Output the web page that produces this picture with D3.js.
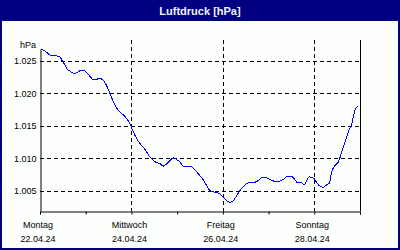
<!DOCTYPE html>
<html>
<head>
<meta charset="utf-8">
<script src="https://cdnjs.cloudflare.com/ajax/libs/d3/7.8.5/d3.min.js"></script>
<style>
  body { margin: 0; padding: 0; background: #fcfffc; }
  #chart { width: 400px; height: 250px; }
</style>
</head>
<body>
<div id="chart"></div>
<script>
// hours since Monday 22.04.24 00:00, and the pressure in hPa
var hours = [0.5, 2.6, 5.25, 7.9, 10.5, 11.4, 13.1, 14.3, 15.75, 17.5, 18.9, 20.1, 21.9, 23.6,
  25.4, 27.1, 28.35, 29.8, 31.1, 32.9, 34.65, 36.4, 38.2, 39.9, 41.6, 42.9, 45.5, 47.8,
  49.0, 50.8, 52.5, 54.2, 56.0, 57.75, 59.5, 61.3, 63.0, 64.7, 66.5, 68.25, 70.0, 71.8,
  73.5, 75.2, 77.0, 78.75, 80.85, 83.1, 85.7, 87.5, 89.25, 91.9, 94.5, 96.2, 98.0, 99.75,
  101.5, 103.3, 105.0, 106.7, 108.5, 110.25, 112.9, 114.6, 116.9, 119.0, 121.6, 124.3,
  127.7, 129.5, 131.8, 133.5, 135.3, 137.4, 138.8, 140.0, 141.2, 142.6, 144.0, 145.3,
  147.0, 148.7, 150.5, 151.9, 153.1, 154.9, 156.6, 158.4, 160.1, 161.9, 163.7, 165.4, 166.8];

var pressure = [1026.86, 1026.55, 1025.93, 1025.82, 1025.67, 1025.15, 1024.38, 1023.76, 1023.45,
  1023.14, 1023.14, 1023.34, 1023.61, 1023.45, 1022.94, 1022.32, 1022.06, 1022.17, 1022.32,
  1022.11, 1021.39, 1020.25, 1018.96, 1017.93, 1017.26, 1016.90, 1016.13, 1014.94, 1014.06,
  1013.03, 1012.26, 1011.73, 1010.96, 1010.19, 1009.67, 1009.32, 1009.16, 1008.79, 1009.16,
  1009.67, 1010.09, 1009.78, 1009.41, 1008.79, 1008.70, 1008.75, 1008.39, 1007.62, 1006.69,
  1005.80, 1005.03, 1004.77, 1004.52, 1004.00, 1003.48, 1003.22, 1003.48, 1004.26, 1005.03,
  1005.65, 1006.07, 1006.32, 1006.32, 1006.58, 1007.09, 1007.00, 1006.58, 1006.42, 1006.73,
  1007.15, 1007.24, 1006.84, 1006.22, 1006.22, 1005.91, 1006.58, 1007.15, 1007.04, 1006.84,
  1006.22, 1005.70, 1005.54, 1005.91, 1006.16, 1007.86, 1008.90, 1009.41, 1010.96, 1012.51,
  1014.06, 1015.36, 1017.42, 1018.08];

var yTicks = [1005, 1010, 1015, 1020, 1025];
var dayNames = ["Montag", "Mittwoch", "Freitag", "Sonntag"];
var dayLabels = ["22.04.24", "24.04.24", "26.04.24", "28.04.24"];
var labelDays = [22, 24, 26, 28];

var title = "Luftdruck [hPa]";
var unit = "hPa";

var visualize = function() {

  var width = 400, height = 250;
  var left = 40, right = 360, top = 40, bottom = 211;

  var svg = d3.select("#chart")
    .append("svg")
    .attr("width", width)
    .attr("height", height)
    .style("font-family", "'Liberation Sans', Arial, sans-serif");

  svg.append("rect")
    .attr("width", width).attr("height", height)
    .attr("fill", "#fcfffc");

  // title bar
  svg.append("rect")
    .attr("x", 0).attr("y", 0)
    .attr("width", width).attr("height", 21)
    .attr("fill", "#000080");

  svg.append("text")
    .attr("x", width / 2).attr("y", 14.5)
    .attr("text-anchor", "middle")
    .style("font-size", "11px")
    .style("font-weight", "bold")
    .style("fill", "#f4f4ff")
    .text(title);

  var start = new Date(2024, 3, 22);
  var end = new Date(2024, 3, 29);
  var data = hours.map(function(h, i) {
    return { date: new Date(start.getTime() + h * 3600000), value: pressure[i] };
  });

  var x = d3.scaleTime()
    .domain([start, end])
    .range([left, right]);

  // y axis line only covers the value range, grid goes a bit higher
  var y = d3.scaleLinear()
    .domain([1001.87, 1026.85])
    .range([bottom, 49]);

  var de = d3.formatLocale({ decimal: ",", thousands: ".", grouping: [3], currency: ["", "€"] });

  // horizontal grid
  svg.selectAll("hGrid")
    .data(yTicks)
    .enter()
    .append("line")
      .attr("x1", left).attr("x2", right)
      .attr("y1", function(d) { return Math.round(y(d)) + 0.5; })
      .attr("y2", function(d) { return Math.round(y(d)) + 0.5; })
      .attr("stroke", "#000")
      .attr("stroke-dasharray", "4,3");

  // vertical grid every second day
  var gridDays = labelDays.slice(1).map(function(d) { return new Date(2024, 3, d); });
  svg.selectAll("vGrid")
    .data(gridDays)
    .enter()
    .append("line")
      .attr("x1", function(d) { return Math.round(x(d)) + 0.5; })
      .attr("x2", function(d) { return Math.round(x(d)) + 0.5; })
      .attr("y1", top).attr("y2", bottom)
      .attr("stroke", "#000")
      .attr("stroke-dasharray", "4,3");

  // right border
  svg.append("line")
    .attr("x1", right + 0.5).attr("x2", right + 0.5)
    .attr("y1", top).attr("y2", bottom)
    .attr("stroke", "#000");

  // y axis
  var yAxis = svg.append("g")
    .attr("transform", "translate(" + (left + 0.5) + ",0)")
    .call(d3.axisLeft(y).tickValues(yTicks).tickSize(0).tickPadding(4)
      .tickFormat(de.format(",.0f")));
  yAxis.select(".domain").attr("stroke", "#000");
  yAxis.selectAll("text")
    .style("font-size", "9px")
    .style("font-family", "'Liberation Sans', Arial, sans-serif")
    .attr("fill", "#000");

  svg.append("text")
    .attr("x", 36).attr("y", 48)
    .attr("text-anchor", "end")
    .style("font-size", "9px")
    .text(unit);

  // x axis with a tick for every day
  var xAxis = svg.append("g")
    .attr("transform", "translate(0," + (bottom + 0.5) + ")")
    .call(d3.axisBottom(x).ticks(d3.timeDay.every(1)).tickSizeInner(3).tickSizeOuter(3)
      .tickFormat(""));
  xAxis.select(".domain").attr("stroke", "#000");
  xAxis.selectAll("line").attr("stroke", "#000");

  var labelDates = labelDays.map(function(d) { return new Date(2024, 3, d); });
  svg.selectAll("dayName")
    .data(labelDates)
    .enter()
    .append("text")
      .attr("x", function(d) { return x(d) - 2; })
      .attr("y", 227.5)
      .attr("text-anchor", "middle")
      .style("font-size", "9px")
      .text(function(d, i) { return dayNames[i]; });

  svg.selectAll("dayDate")
    .data(labelDates)
    .enter()
    .append("text")
      .attr("x", function(d) { return x(d) - 2; })
      .attr("y", 242)
      .attr("text-anchor", "middle")
      .style("font-size", "9px")
      .text(function(d, i) { return dayLabels[i]; });

  // the pressure line, drawn without smoothing like the original
  var line = d3.line()
    .x(function(d) { return x(d.date); })
    .y(function(d) { return y(d.value); })
    .curve(d3.curveMonotoneX);

  svg.append("path")
    .datum(data)
    .attr("d", line)
    .attr("fill", "none")
    .attr("stroke", "#0000ff")
    .attr("stroke-width", 1)
    .attr("shape-rendering", "crispEdges");

  // outer frame
  svg.append("rect")
    .attr("x", 1).attr("y", 1)
    .attr("width", width - 2).attr("height", height - 2)
    .attr("fill", "none")
    .attr("stroke", "#000080")
    .attr("stroke-width", 2);
};

visualize();
</script>
</body>
</html>
